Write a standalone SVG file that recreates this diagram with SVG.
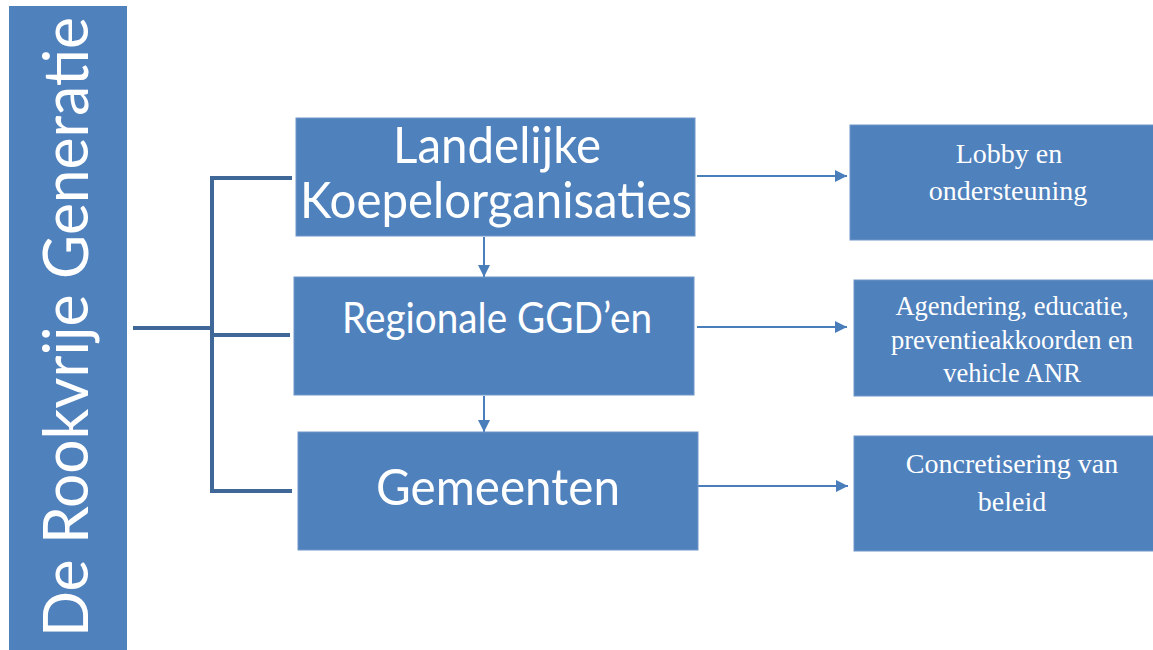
<svg xmlns="http://www.w3.org/2000/svg" width="1153" height="650" viewBox="0 0 1153 650">
<defs>
<style>
.box{fill:#4f81bd;stroke:#7096c9;stroke-width:1}
.sans{font-family:Lato,"Open Sans","Liberation Sans",sans-serif;fill:#fff;text-anchor:middle}
.serif{font-family:"Liberation Serif","Times New Roman",serif;fill:#fff;text-anchor:middle;font-size:28px}
.br{fill:none;stroke:#3f6898;stroke-width:4}
.arr{fill:none;stroke:#4a7ebb;stroke-width:2}
</style>
<marker id="ah" viewBox="0 0 10 10" refX="10" refY="5" markerWidth="6" markerHeight="6" markerUnits="strokeWidth" orient="auto">
<path d="M0,0 L10,5 L0,10 z" fill="#4a7ebb"/>
</marker>
</defs>
<rect width="1153" height="650" fill="#fff"/>
<g id="rookvrije">
<rect x="9" y="6" width="118" height="644" fill="#4f81bd"/>
<text class="sans" transform="translate(88,637) rotate(-90)" style="text-anchor:start" font-size="61" textLength="620" lengthAdjust="spacingAndGlyphs">De Rookvrije Generatie</text>
</g>
<g id="connectors">
<path class="br" d="M133,328 H212"/>
<path class="br" d="M292,178 H212 V491 H292"/>
<path class="br" d="M212,335 H290"/>
<path class="arr" d="M697,176 H847" marker-end="url(#ah)"/>
<path class="arr" d="M697,327 H847" marker-end="url(#ah)"/>
<path class="arr" d="M698,486 H848" marker-end="url(#ah)"/>
<path class="arr" d="M484,237 V277" marker-end="url(#ah)"/>
<path class="arr" d="M484,396 V432" marker-end="url(#ah)"/>
</g>
<g id="landelijk">
<rect class="box" x="296" y="118" width="399" height="118"/>
<text class="sans" x="497" y="163" font-size="50" textLength="208" lengthAdjust="spacingAndGlyphs">Landelijke</text>
<text class="sans" x="496" y="218" font-size="50" textLength="392" lengthAdjust="spacingAndGlyphs">Koepelorganisaties</text>
</g>
<g id="regionaal">
<rect class="box" x="294" y="277" width="400" height="118"/>
<text class="sans" x="497" y="333" font-size="42" textLength="310" lengthAdjust="spacingAndGlyphs">Regionale GGD’en</text>
</g>
<g id="gemeenten">
<rect class="box" x="298" y="432" width="400" height="118"/>
<text class="sans" x="498" y="505" font-size="50" textLength="244" lengthAdjust="spacingAndGlyphs">Gemeenten</text>
</g>
<g id="lobby">
<rect class="box" x="850" y="125" width="310" height="115"/>
<text class="serif" x="1009" y="163">Lobby en</text>
<text class="serif" x="1008" y="200">ondersteuning</text>
</g>
<g id="agendering">
<rect class="box" x="854" y="280" width="306" height="116"/>
<text class="serif" x="1012" y="315" style="font-size:26.5px">Agendering, educatie,</text>
<text class="serif" x="1012" y="349" style="font-size:26.5px">preventieakkoorden en</text>
<text class="serif" x="1012" y="382" style="font-size:26.5px">vehicle ANR</text>
</g>
<g id="concretisering">
<rect class="box" x="854" y="436" width="306" height="115"/>
<text class="serif" x="1012" y="473">Concretisering van</text>
<text class="serif" x="1012" y="511">beleid</text>
</g>
</svg>
